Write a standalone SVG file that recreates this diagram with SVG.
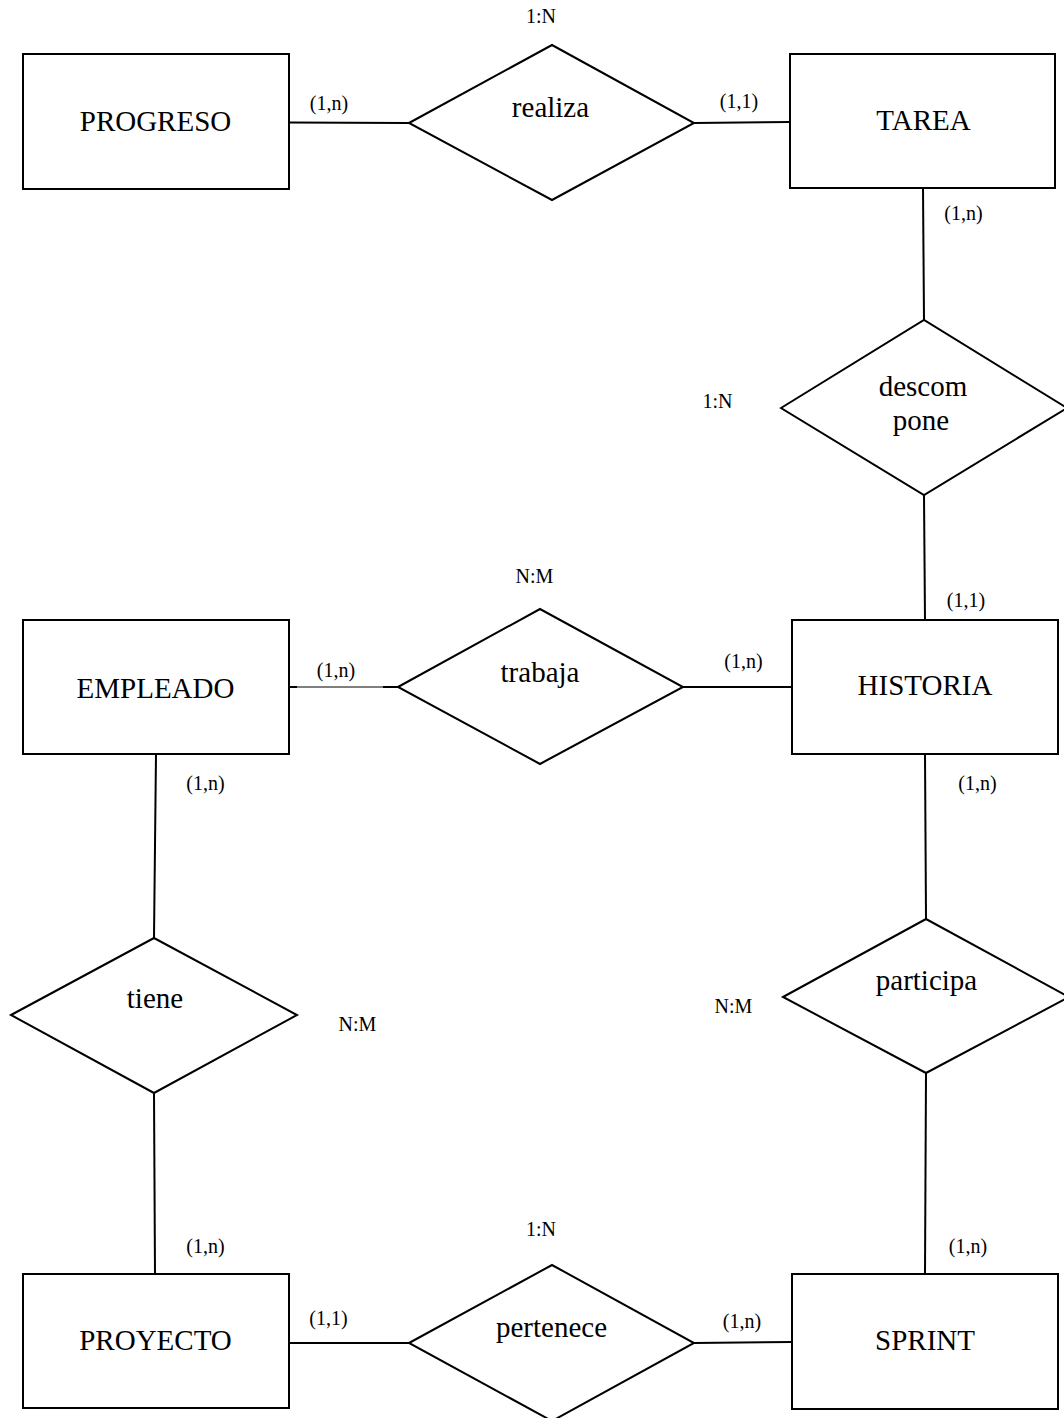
<svg xmlns="http://www.w3.org/2000/svg" width="1064" height="1418" viewBox="0 0 1064 1418">
  <style>
    .ent { fill: #ffffff; stroke: #000000; stroke-width: 2; }
    .rel { fill: #ffffff; stroke: #000000; stroke-width: 2; stroke-linejoin: miter; }
    .link { stroke: #000000; stroke-width: 2; fill: none; }
    .thin { stroke: #000000; stroke-width: 1; fill: none; }
    .name { font-family: "Liberation Serif", "Times New Roman", serif; font-size: 29px; fill: #000000; text-anchor: middle; }
    .card { font-family: "Liberation Serif", "Times New Roman", serif; font-size: 20px; fill: #000000; text-anchor: middle; }
  </style>
  <rect x="0" y="0" width="1064" height="1418" fill="#ffffff"/>

  <!-- connectors -->
  <g id="connectors">
    <line class="link" x1="289" y1="122.5" x2="409" y2="123"/>
    <line class="link" x1="694" y1="123" x2="790" y2="122"/>
    <line class="link" x1="923" y1="188" x2="924" y2="320"/>
    <line class="link" x1="924" y1="495" x2="925" y2="620"/>
    <line class="link" x1="289" y1="687" x2="297" y2="687"/>
    <line class="thin" x1="297" y1="687" x2="383" y2="687"/>
    <line class="link" x1="383" y1="687" x2="398" y2="687"/>
    <line class="link" x1="683" y1="687" x2="792" y2="687"/>
    <line class="link" x1="156" y1="754" x2="154" y2="938"/>
    <line class="link" x1="154" y1="1093" x2="155" y2="1274"/>
    <line class="link" x1="925" y1="754" x2="926" y2="919"/>
    <line class="link" x1="926" y1="1073" x2="925" y2="1274"/>
    <line class="link" x1="289" y1="1343" x2="409" y2="1343"/>
    <line class="link" x1="694" y1="1343" x2="792" y2="1342"/>
  </g>

  <!-- entities -->
  <g id="progreso">
    <rect class="ent" x="23" y="54" width="266" height="135"/>
    <text class="name" x="155.5" y="131">PROGRESO</text>
  </g>
  <g id="tarea">
    <rect class="ent" x="790" y="54" width="265" height="134"/>
    <text class="name" x="923.5" y="130">TAREA</text>
  </g>
  <g id="empleado">
    <rect class="ent" x="23" y="620" width="266" height="134"/>
    <text class="name" x="155.5" y="698">EMPLEADO</text>
  </g>
  <g id="historia">
    <rect class="ent" x="792" y="620" width="266" height="134"/>
    <text class="name" x="925" y="695">HISTORIA</text>
  </g>
  <g id="proyecto">
    <rect class="ent" x="23" y="1274" width="266" height="134"/>
    <text class="name" x="155.5" y="1350">PROYECTO</text>
  </g>
  <g id="sprint">
    <rect class="ent" x="792" y="1274" width="266" height="135"/>
    <text class="name" x="925" y="1350">SPRINT</text>
  </g>

  <!-- relationships -->
  <g id="realiza">
    <polygon class="rel" points="409,123 552,45 694,123 552,200"/>
    <text class="name" x="550.5" y="117">realiza</text>
  </g>
  <g id="descompone">
    <polygon class="rel" points="781,408 924,320 1067,408 924,495"/>
    <text class="name" x="923" y="396">descom</text>
    <text class="name" x="921" y="430">pone</text>
  </g>
  <g id="trabaja">
    <polygon class="rel" points="398,687 540,609 683,687 540,764"/>
    <text class="name" x="540" y="682">trabaja</text>
  </g>
  <g id="tiene">
    <polygon class="rel" points="11,1015 154,938 297,1015 154,1093"/>
    <text class="name" x="155" y="1008">tiene</text>
  </g>
  <g id="participa">
    <polygon class="rel" points="783,997 926,919 1069,997 926,1073"/>
    <text class="name" x="926.5" y="990">participa</text>
  </g>
  <g id="pertenece">
    <polygon class="rel" points="409,1343 552,1265 694,1343 552,1421"/>
    <text class="name" x="551.5" y="1337">pertenece</text>
  </g>

  <!-- cardinality labels -->
  <g id="labels">
    <text class="card" x="541" y="23">1:N</text>
    <text class="card" x="329" y="110">(1,n)</text>
    <text class="card" x="739" y="108">(1,1)</text>
    <text class="card" x="963.5" y="220">(1,n)</text>
    <text class="card" x="717.5" y="408">1:N</text>
    <text class="card" x="966" y="607">(1,1)</text>
    <text class="card" x="534.5" y="583">N:M</text>
    <text class="card" x="336" y="677">(1,n)</text>
    <text class="card" x="743.5" y="668">(1,n)</text>
    <text class="card" x="205.5" y="790">(1,n)</text>
    <text class="card" x="977.5" y="790">(1,n)</text>
    <text class="card" x="357.5" y="1031">N:M</text>
    <text class="card" x="733.5" y="1013">N:M</text>
    <text class="card" x="205.5" y="1253">(1,n)</text>
    <text class="card" x="968" y="1253">(1,n)</text>
    <text class="card" x="541" y="1236">1:N</text>
    <text class="card" x="328.5" y="1325">(1,1)</text>
    <text class="card" x="742" y="1328">(1,n)</text>
  </g>
</svg>
